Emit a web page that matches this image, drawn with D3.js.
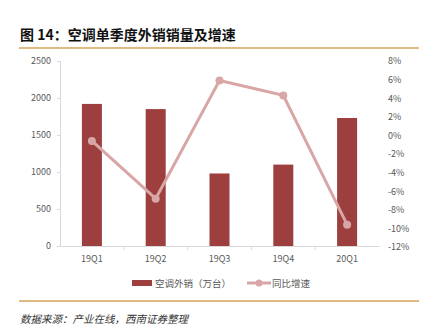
<!DOCTYPE html>
<html>
<head>
<meta charset="utf-8">
<script src="https://cdn.jsdelivr.net/npm/d3@7"></script>
<style>
  html, body { margin: 0; padding: 0; background: #fff; }
  svg { display: block; }
</style>
</head>
<body>
<svg id="chart" width="426" height="335"></svg>
<script>
// Quarterly export volume of air conditioners and YoY growth
const quarters = ["19Q1", "19Q2", "19Q3", "19Q4", "20Q1"];
const exportVolume = [1920, 1850, 980, 1100, 1730];   // 万台
const yoyGrowth = [-0.6, -6.8, 5.9, 4.3, -9.6];        // %
const leftTicks = [0, 500, 1000, 1500, 2000, 2500];
const rightTicks = [8, 6, 4, 2, 0, -2, -4, -6, -8, -10, -12];

const svg = d3.select("#chart");
const font = "'Microsoft YaHei', 'Noto Sans CJK SC', sans-serif";

const plot = { left: 60, right: 379, top: 61, bottom: 246 };

const x = d3.scaleBand().domain(quarters).range([plot.left, plot.right]).paddingInner(0).paddingOuter(0);
const yL = d3.scaleLinear().domain([0, 2500]).range([plot.bottom, plot.top]);
const yR = d3.scaleLinear().domain([-12, 8]).range([plot.bottom + 1, plot.top]);

// Title
svg.append("text")
  .attr("x", 20).attr("y", 40)
  .attr("font-family", font).attr("font-size", 14).attr("font-weight", "bold")
  .attr("fill", "#111")
  .text("图 14：空调单季度外销销量及增速");

svg.append("line").attr("x1", 19).attr("x2", 419).attr("y1", 48).attr("y2", 48)
  .attr("stroke", "#D4A35A").attr("stroke-width", 1.5);
svg.append("line").attr("x1", 19).attr("x2", 419).attr("y1", 301).attr("y2", 301)
  .attr("stroke", "#D4A35A").attr("stroke-width", 1.5);

// Left axis
const leftAxis = d3.axisLeft(yL).tickValues(leftTicks).tickSize(3).tickPadding(6)
  .tickFormat(d3.format("d"));
const gL = svg.append("g").attr("transform", `translate(${plot.left},0)`).call(leftAxis);
gL.select(".domain").attr("stroke", "#D9D9D9");
gL.selectAll(".tick line").attr("stroke", "#D9D9D9");
gL.selectAll("text").attr("font-family", font).attr("font-size", 9).attr("fill", "#595959");

// Right axis (labels only)
const rightAxis = d3.axisRight(yR).tickValues(rightTicks).tickSize(0).tickPadding(9)
  .tickFormat(d => d + "%");
const gR = svg.append("g").attr("transform", `translate(${plot.right},0)`).call(rightAxis);
gR.select(".domain").remove();
gR.selectAll("text").attr("font-family", font).attr("font-size", 9).attr("fill", "#595959");

// Bottom axis
const gX = svg.append("g").attr("transform", `translate(0,${plot.bottom})`)
  .call(d3.axisBottom(x).tickSize(0).tickPadding(10));
gX.select(".domain").attr("stroke", "#D9D9D9");
gX.selectAll("text").attr("font-family", font).attr("font-size", 9).attr("fill", "#595959");
// Category separators
gX.selectAll(".sep").data(quarters.slice(1)).enter().append("line")
  .attr("x1", d => x(d)).attr("x2", d => x(d)).attr("y1", 0).attr("y2", 4)
  .attr("stroke", "#D9D9D9");

// Bars
const barW = 20;
svg.append("g").selectAll("rect").data(quarters).enter().append("rect")
  .attr("x", d => x(d) + x.bandwidth() / 2 - barW / 2)
  .attr("y", (d, i) => yL(exportVolume[i]))
  .attr("width", barW)
  .attr("height", (d, i) => plot.bottom - yL(exportVolume[i]))
  .attr("fill", "#9C3F3E");

// Growth line
const lineColor = "#D9A6A6";
const line = d3.line()
  .x((d, i) => x(quarters[i]) + x.bandwidth() / 2)
  .y(d => yR(d));
svg.append("path").datum(yoyGrowth)
  .attr("d", line).attr("fill", "none")
  .attr("stroke", lineColor).attr("stroke-width", 3);
svg.append("g").selectAll("circle").data(yoyGrowth).enter().append("circle")
  .attr("cx", (d, i) => x(quarters[i]) + x.bandwidth() / 2)
  .attr("cy", d => yR(d))
  .attr("r", 4).attr("fill", lineColor);

// Legend
const lg = svg.append("g").attr("font-family", font).attr("font-size", 9.5).attr("fill", "#595959");
lg.append("rect").attr("x", 132).attr("y", 280).attr("width", 20).attr("height", 6).attr("fill", "#9C3F3E");
lg.append("text").attr("x", 155).attr("y", 286.5).text("空调外销（万台）");
lg.append("line").attr("x1", 247).attr("x2", 271).attr("y1", 283).attr("y2", 283)
  .attr("stroke", lineColor).attr("stroke-width", 3);
lg.append("circle").attr("cx", 259).attr("cy", 283).attr("r", 3.5).attr("fill", lineColor);
lg.append("text").attr("x", 272).attr("y", 286.5).text("同比增速");

// Source
svg.append("text")
  .attr("x", 20).attr("y", 323)
  .attr("font-family", font).attr("font-size", 10.5).attr("font-style", "italic")
  .attr("font-weight", "normal")
  .attr("fill", "#333")
  .text("数据来源：产业在线，西南证券整理");
</script>
</body>
</html>
